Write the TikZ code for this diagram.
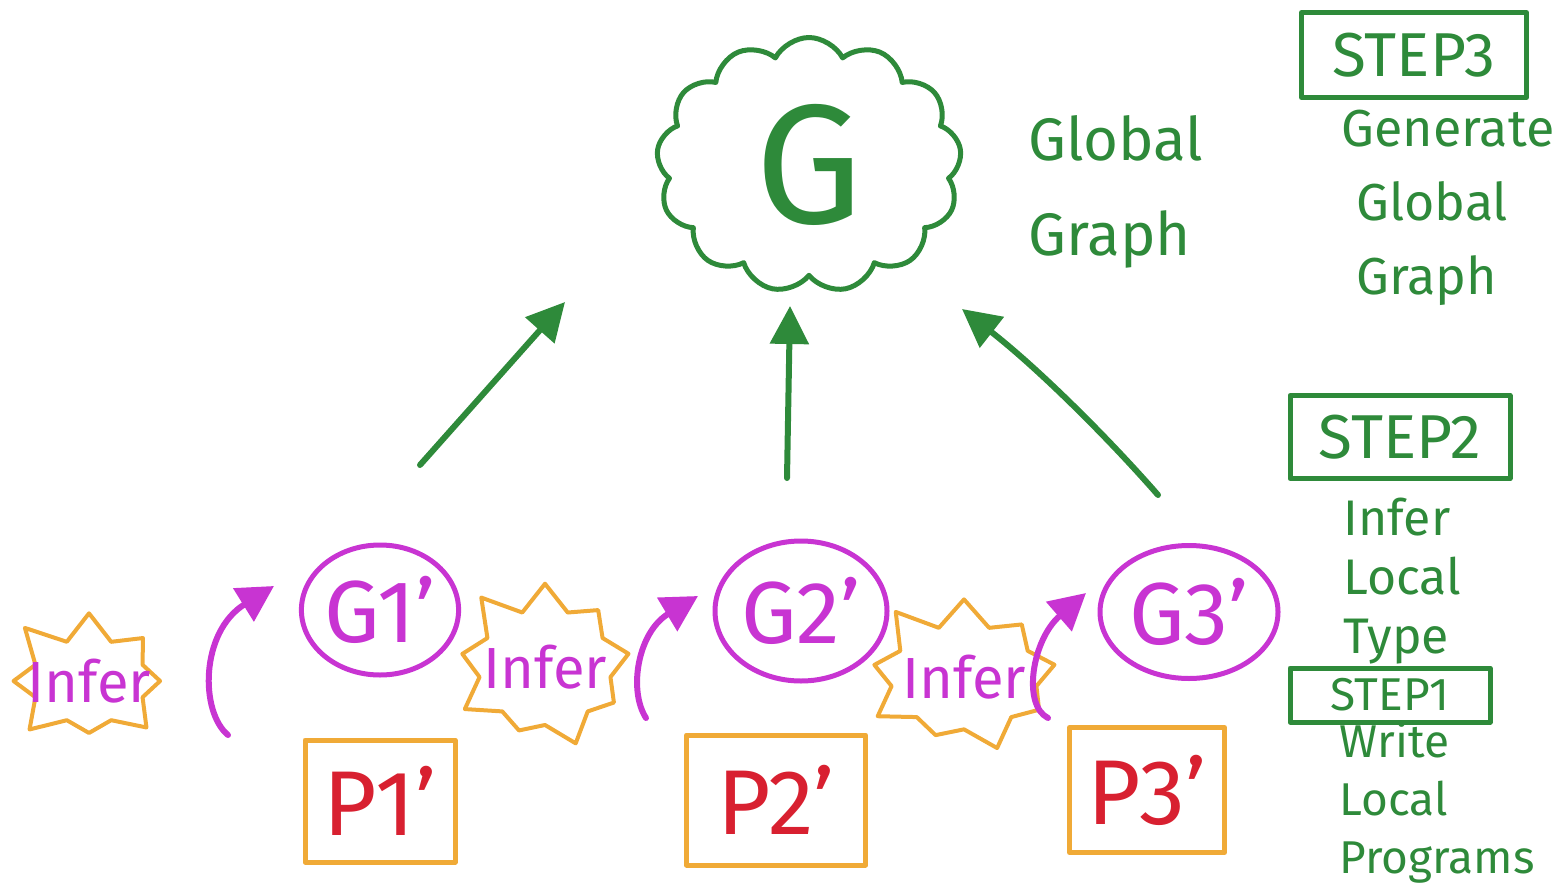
\documentclass[tikz,border=0pt]{standalone}
\usepackage{fontspec}
\setmainfont{Fira Sans}
\usetikzlibrary{shapes.symbols,shapes.geometric,arrows.meta}
\definecolor{pen-green}{RGB}{46,138,58}
\definecolor{pen-magenta}{RGB}{200,52,210}
\definecolor{pen-orange}{RGB}{240,170,55}
\definecolor{pen-red}{RGB}{216,32,48}
\newcommand{\fs}[2]{\fontsize{#1}{#2}\selectfont}
\tikzset{
  ink/.style={line width=5pt, line cap=round, line join=round},
  globalcloud/.style={ink, draw=pen-green, cloud, cloud puffs=13, cloud puff arc=125,
    aspect=1.2, minimum width=305pt, minimum height=255pt, text=pen-green, font=\fs{170}{180}},
  localgraph/.style={ink, draw=pen-magenta, ellipse, text=pen-magenta, font=\fs{88}{95}, inner sep=0pt},
  program/.style={ink, draw=pen-orange, rectangle, text=pen-red, font=\fs{92}{100}, inner sep=0pt},
  inferburst/.style={line width=4pt, line join=round, draw=pen-orange, starburst, starburst points=9,
    starburst point height=34pt, random starburst=11,
    label={[text=pen-magenta, font=\fs{58}{62}]center:Infer}},
  stepbox/.style={ink, draw=pen-green, rectangle, text=pen-green, inner sep=0pt},
  steptext/.style={text=pen-green, align=left, anchor=west},
  liftarrow/.style={line width=6pt, line cap=round, draw=pen-green, -{Triangle[length=38pt,width=38pt]}},
  inferarrow/.style={line width=6pt, line cap=round, draw=pen-magenta, -{Triangle[length=36pt,width=38pt]}}
}
\begin{document}
\begin{tikzpicture}[x=1pt, y=-1pt]
\useasboundingbox (0,0) rectangle (1566,894);

% global graph
\node[globalcloud] (G) at (809,165) {G};
\node[steptext, font=\fs{60}{95}] (Glabel) at (1025,192) {Global\\Graph};

% local graphs
\node[localgraph, minimum width=150pt, minimum height=130pt] (G1) at (380,610) {G1'};
\node[localgraph, minimum width=172pt, minimum height=140pt] (G2) at (801,611) {G2'};
\node[localgraph, minimum width=178pt, minimum height=133pt] (G3) at (1189,612) {G3'};

% local programs
\node[program, minimum width=150pt, minimum height=122pt] (P1) at (380,801) {P1'};
\node[program, minimum width=179pt, minimum height=130pt] (P2) at (776,800) {P2'};
\node[program, minimum width=155pt, minimum height=125pt] (P3) at (1147,790) {P3'};

% inference bursts (size set by the inner separations)
\node[inferburst, starburst points=8, inner xsep=41pt, inner ysep=30pt] (I1) at (89,681) {};
\node[inferburst, inner xsep=47pt, inner ysep=41pt] (I2) at (545,667) {};
\node[inferburst, inner xsep=52pt, inner ysep=37pt] (I3) at (964,677) {};

% inference arrows
\coordinate (a1s) at (228,735);
\coordinate (a1e) at (274,586);
\coordinate (a2s) at (646,718);
\coordinate (a2e) at (698,596);
\coordinate (a3s) at (1048,718);
\coordinate (a3e) at (1086,593);
\draw[inferarrow] (a1s) .. controls (200,712) and (200,632) .. (a1e);
\draw[inferarrow] (a2s) .. controls (628,690) and (638,632) .. (a2e);
\draw[inferarrow] (a3s) .. controls (1022,705) and (1032,640) .. (a3e);

% lifting to the global graph
\coordinate (l1s) at (420,465);
\coordinate (l1e) at (565,302);
\coordinate (l2s) at (787,478);
\coordinate (l2e) at (790,306);
\coordinate (l3s) at (1158,495);
\coordinate (l3e) at (962,309);
\draw[liftarrow] (l1s) -- (l1e);
\draw[liftarrow] (l2s) -- (l2e);
\draw[liftarrow] (l3s) .. controls (1110,440) and (1040,370) .. (l3e);

% steps
\node[stepbox, minimum width=225pt, minimum height=85pt, font=\fs{62}{70}] (S3) at (1414,55) {STEP3};
\node[steptext, font=\fs{52}{74}] (S3t) at (1338,208) {Generate\\\hspace*{15pt}Global\\\hspace*{15pt}Graph};
\node[stepbox, minimum width=220pt, minimum height=83pt, font=\fs{62}{70}] (S2) at (1400,437) {STEP2};
\node[steptext, font=\fs{50}{59}] (S2t) at (1340,581) {Infer\\Local\\Type};
\node[stepbox, minimum width=200pt, minimum height=54pt, font=\fs{46}{50}] (S1) at (1390,695) {STEP1};
\node[steptext, font=\fs{46}{58}] (S1t) at (1336,802) {Write\\Local\\Programs};
\end{tikzpicture}
\end{document}
